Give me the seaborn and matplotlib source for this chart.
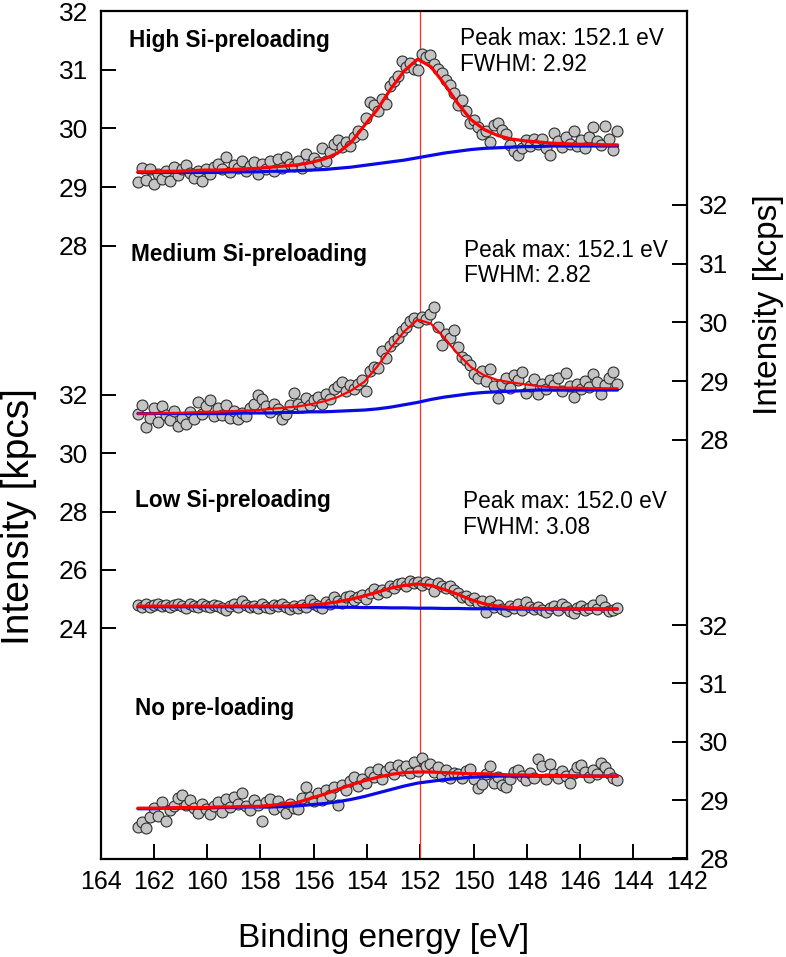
import numpy as np
import seaborn as sns
import matplotlib.pyplot as plt

sns.set_theme(style="ticks", rc={'axes.edgecolor': 'black', 'text.color': 'black',
                                  'xtick.color': 'black', 'ytick.color': 'black'})
plt.rcParams['font.family'] = ['Liberation Sans', 'DejaVu Sans']

# binding energy grids [eV]
energy = np.round(np.arange(162.6, 144.55, -0.15), 2)      # measured points
fit_energy = np.round(np.arange(162.6, 144.55, -0.5), 2)   # fitted curves

# High Si-preloading (left axis, top)
high_counts = [29.08, 29.33, 29.12, 29.30, 29.05, 29.22, 29.14, 29.28, 29.10, 29.35, 29.20, 29.30, 29.38, 29.24, 29.15, 29.27, 29.10, 29.31, 29.22, 29.35,
               29.40, 29.30, 29.52, 29.25, 29.38, 29.33, 29.44, 29.28, 29.36, 29.42, 29.22, 29.40, 29.30, 29.45, 29.27, 29.48, 29.33, 29.52, 29.40, 29.36,
               29.45, 29.33, 29.56, 29.38, 29.50, 29.42, 29.66, 29.44, 29.60, 29.74, 29.80, 29.68, 29.76, 29.70, 29.86, 29.95, 29.90, 30.18, 30.45, 30.40,
               30.30, 30.50, 30.42, 30.72, 30.80, 30.90, 31.15, 31.05, 31.12, 31.02, 31.00, 31.26, 31.22, 31.25, 31.10, 31.02, 30.95, 30.82, 30.74, 30.60,
               30.40, 30.48, 30.30, 30.10, 30.15, 30.02, 29.90, 29.95, 29.76, 30.05, 30.10, 29.98, 29.90, 29.72, 29.62, 29.54, 29.66, 29.80, 29.70, 29.82,
               29.74, 29.82, 29.66, 29.55, 29.92, 29.78, 29.68, 29.85, 29.74, 29.96, 29.70, 29.80, 29.66, 29.86, 30.02, 29.78, 29.72, 30.04, 29.82, 29.64, 29.95]
high_fit = [29.26, 29.26, 29.27, 29.27, 29.28, 29.29, 29.29, 29.30, 29.31, 29.32,
            29.34, 29.36, 29.38, 29.42, 29.48, 29.58, 29.76, 30.05, 30.33, 30.68,
            30.98, 31.18, 31.05, 30.76, 30.43, 30.15, 29.98, 29.88, 29.82, 29.79,
            29.77, 29.75, 29.74, 29.73, 29.73, 29.72, 29.72]
high_bg = [29.25, 29.25, 29.25, 29.25, 29.25, 29.25, 29.25, 29.26, 29.26, 29.26,
           29.27, 29.27, 29.28, 29.29, 29.30, 29.32, 29.34, 29.37, 29.40, 29.43,
           29.46, 29.50, 29.54, 29.58, 29.61, 29.64, 29.66, 29.67, 29.68, 29.69,
           29.69, 29.70, 29.70, 29.70, 29.70, 29.70, 29.70]

# Medium Si-preloading (right axis, upper)
med_counts = [28.45, 28.60, 28.22, 28.38, 28.55, 28.30, 28.58, 28.42, 28.34, 28.50, 28.24, 28.38, 28.28, 28.48, 28.36, 28.64, 28.44, 28.58, 28.68, 28.40,
              28.55, 28.42, 28.60, 28.38, 28.50, 28.36, 28.46, 28.40, 28.54, 28.62, 28.76, 28.70, 28.58, 28.48, 28.62, 28.52, 28.36, 28.44, 28.60, 28.80,
              28.62, 28.56, 28.72, 28.60, 28.68, 28.74, 28.62, 28.78, 28.70, 28.86, 28.92, 28.98, 28.84, 28.94, 28.86, 28.96, 29.02, 28.84, 29.18, 29.25,
              29.22, 29.52, 29.40, 29.60, 29.68, 29.74, 29.85, 29.92, 30.02, 30.08, 30.00, 30.10, 30.06, 30.14, 30.26, 29.92, 29.62, 29.80, 29.74, 29.88,
              29.58, 29.42, 29.36, 29.28, 29.12, 29.06, 29.18, 29.00, 29.20, 28.92, 28.72, 28.96, 29.06, 28.88, 29.10, 29.02, 29.16, 28.80, 28.92, 29.04,
              28.78, 28.96, 28.86, 29.02, 28.94, 29.06, 28.84, 29.14, 28.92, 28.74, 28.96, 28.86, 29.00, 28.90, 29.12, 28.98, 28.78, 28.94, 29.06, 29.16, 28.95]
med_fit = [28.45, 28.45, 28.46, 28.46, 28.47, 28.48, 28.48, 28.49, 28.50, 28.51,
           28.53, 28.55, 28.57, 28.61, 28.66, 28.73, 28.84, 28.99, 29.26, 29.57,
           29.85, 30.05, 29.98, 29.74, 29.47, 29.24, 29.10, 29.02, 28.98, 28.95,
           28.92, 28.90, 28.89, 28.89, 28.88, 28.88, 28.88]
med_bg = [28.45, 28.45, 28.45, 28.45, 28.45, 28.45, 28.45, 28.45, 28.46, 28.46,
          28.46, 28.47, 28.47, 28.48, 28.48, 28.49, 28.50, 28.51, 28.53, 28.56,
          28.60, 28.64, 28.69, 28.73, 28.76, 28.79, 28.81, 28.82, 28.83, 28.84,
          28.85, 28.85, 28.85, 28.85, 28.85, 28.85, 28.85]

# Low Si-preloading (left axis, lower)
low_counts = [24.80, 24.74, 24.82, 24.72, 24.79, 24.84, 24.75, 24.81, 24.73, 24.80, 24.85, 24.76, 24.71, 24.82, 24.77, 24.74, 24.83, 24.78, 24.72, 24.80,
              24.76, 24.70, 24.62, 24.78, 24.84, 24.74, 24.92, 24.80, 24.72, 24.78, 24.70, 24.82, 24.74, 24.68, 24.80, 24.76, 24.84, 24.72, 24.66, 24.78,
              24.68, 24.80, 24.72, 24.98, 24.84, 24.76, 24.68, 24.90, 24.82, 25.06, 24.92, 24.86, 25.08, 25.12, 24.96, 25.06, 25.14, 25.02, 25.20, 25.34,
              25.16, 25.30, 25.24, 25.46, 25.38, 25.52, 25.56, 25.44, 25.62, 25.54, 25.60, 25.48, 25.58, 25.52, 25.28, 25.54, 25.46, 25.38, 25.44, 25.30,
              25.22, 25.06, 25.12, 24.96, 25.04, 24.86, 24.92, 24.56, 24.94, 24.72, 24.80, 24.66, 24.60, 24.76, 24.70, 24.82, 24.64, 24.90, 24.72, 24.66,
              24.74, 24.62, 24.56, 24.70, 24.78, 24.64, 24.84, 24.72, 24.60, 24.54, 24.68, 24.76, 24.62, 24.70, 24.80, 24.66, 24.98, 24.74, 24.60, 24.64, 24.68]
low_fit = [24.76, 24.76, 24.76, 24.76, 24.76, 24.76, 24.76, 24.76, 24.76, 24.76,
           24.76, 24.76, 24.77, 24.80, 24.84, 24.91, 25.00, 25.11, 25.24, 25.38,
           25.47, 25.52, 25.47, 25.33, 25.17, 24.98, 24.84, 24.76, 24.71, 24.69,
           24.68, 24.67, 24.67, 24.66, 24.66, 24.66, 24.66]
low_bg = [24.74, 24.74, 24.74, 24.74, 24.74, 24.74, 24.74, 24.74, 24.74, 24.74,
          24.74, 24.74, 24.74, 24.73, 24.73, 24.72, 24.72, 24.71, 24.71, 24.70,
          24.70, 24.69, 24.69, 24.68, 24.68, 24.67, 24.67, 24.67, 24.66, 24.66,
          24.66, 24.66, 24.66, 24.66, 24.66, 24.66, 24.66]

# No pre-loading (right axis, lower)
no_counts = [28.54, 28.62, 28.52, 28.70, 28.86, 28.72, 28.96, 28.64, 28.82, 28.90, 29.04, 29.08, 28.92, 29.00, 28.86, 28.78, 28.94, 28.84, 28.76, 28.90,
             28.96, 28.80, 29.02, 28.88, 29.06, 28.94, 29.12, 28.90, 28.82, 29.00, 28.92, 28.64, 28.96, 29.02, 28.84, 28.98, 28.88, 28.78, 28.94, 28.86,
             28.84, 29.04, 29.22, 29.06, 28.98, 29.12, 29.00, 29.18, 29.08, 29.22, 28.92, 29.26, 29.18, 29.32, 29.40, 29.24, 29.36, 29.30, 29.48, 29.40,
             29.54, 29.36, 29.50, 29.56, 29.44, 29.60, 29.52, 29.58, 29.46, 29.66, 29.50, 29.72, 29.58, 29.62, 29.48, 29.56, 29.42, 29.52, 29.38, 29.46,
             29.44, 29.38, 29.50, 29.54, 29.36, 29.20, 29.28, 29.44, 29.58, 29.30, 29.40, 29.26, 29.22, 29.36, 29.48, 29.52, 29.42, 29.34, 29.46, 29.38,
             29.70, 29.58, 29.36, 29.62, 29.44, 29.38, 29.50, 29.42, 29.30, 29.46, 29.56, 29.60, 29.48, 29.40, 29.52, 29.44, 29.64, 29.56, 29.46, 29.38, 29.34]
no_fit = [28.86, 28.86, 28.86, 28.87, 28.87, 28.87, 28.88, 28.88, 28.89, 28.89,
          28.91, 28.93, 28.96, 29.03, 29.10, 29.18, 29.26, 29.33, 29.39, 29.44,
          29.47, 29.48, 29.48, 29.47, 29.46, 29.45, 29.45, 29.44, 29.43, 29.43,
          29.42, 29.42, 29.42, 29.41, 29.41, 29.41, 29.41]
no_bg = [28.85, 28.85, 28.86, 28.86, 28.86, 28.86, 28.87, 28.87, 28.88, 28.88,
         28.88, 28.89, 28.90, 28.92, 28.94, 28.97, 29.01, 29.06, 29.12, 29.18,
         29.24, 29.29, 29.32, 29.35, 29.37, 29.39, 29.40, 29.41, 29.41, 29.41,
         29.41, 29.41, 29.41, 29.41, 29.41, 29.41, 29.41]

panel_names = ["High Si-preloading", "Medium Si-preloading", "Low Si-preloading", "No pre-loading"]
peak_max = ["152.1", "152.1", "152.0"]
fwhm = ["2.92", "2.82", "3.08"]

W, H = 786, 957


def fpos(x, y):
    # pixel position -> figure fraction
    return x / W, 1 - y / H


def draw_panel(ax, counts, fit, bg, fit_lw=2.3):
    sns.scatterplot(x=energy, y=counts, ax=ax, s=62, color='#c4c4c4', edgecolor='#2e2e2e',
                    linewidth=0.8, legend=False, zorder=3)
    sns.lineplot(x=fit_energy, y=bg, ax=ax, color='#0a0ae6', linewidth=2.3, zorder=4)
    sns.lineplot(x=fit_energy, y=fit, ax=ax, color='#ff0000', linewidth=fit_lw, zorder=5)


fig = plt.figure(figsize=(7.86, 9.57), dpi=100)
ax = fig.add_axes([0.128, 0.1024, 0.7457, 0.8861])
ax_med = ax.twinx()
ax_low = ax.twinx()
ax_no = ax.twinx()

ax.axvline(152, color='#ff2a2a', lw=0.9, zorder=1)

draw_panel(ax, high_counts, high_fit, high_bg)
draw_panel(ax_med, med_counts, med_fit, med_bg, fit_lw=1.6)
draw_panel(ax_low, low_counts, low_fit, low_bg)
draw_panel(ax_no, no_counts, no_fit, no_bg)

ax.set_xlim(164, 142)
ax.set_xticks(range(164, 141, -2))

ax.set_ylim(17.554, 32)
ax.set_yticks([28, 29, 30, 31, 32])
ax_med.set_ylim(20.868, 35.302)
ax_med.set_yticks([28, 29, 30, 31, 32])
ax_low.set_ylim(16.09, 45.164)
ax_low.set_yticks([24, 26, 28, 30, 32])
ax_low.yaxis.tick_left()
ax_no.set_ylim(27.988, 42.533)
ax_no.set_yticks([28, 29, 30, 31, 32])

for a in (ax, ax_med, ax_low, ax_no):
    a.set_xlabel('')
    a.set_ylabel('')
    a.tick_params(axis='y', direction='in', length=11, width=1.4, labelsize=19, pad=9)
for a in (ax_med, ax_low, ax_no):
    for sp in a.spines.values():
        sp.set_visible(False)
for sp in ax.spines.values():
    sp.set_visible(True)
    sp.set_linewidth(1.6)
ax.tick_params(axis='x', direction='in', length=11, width=1.4, labelsize=18, pad=8)

# panel titles
title_pos = [(129, 47), (131, 261), (135, 507), (135, 715)]
for name, (x, y) in zip(panel_names, title_pos):
    fig.text(*fpos(x, y), name, fontsize=16.3, fontweight='bold', va='baseline', ha='left')

# peak annotations
peak_pos = [(460, 45, 71), (464, 257, 282), (463, 508, 534)]
for pm, fw, (x, y1, y2) in zip(peak_max, fwhm, peak_pos):
    fig.text(*fpos(x, y1), f"Peak max: {pm} eV", fontsize=16.3, va='baseline', ha='left')
    fig.text(*fpos(x, y2), f"FWHM: {fw}", fontsize=16.3, va='baseline', ha='left')

fig.text(*fpos(384, 938), "Binding energy [eV]", fontsize=24, ha='center', va='center')
fig.text(*fpos(19, 517), "Intensity [kpcs]", fontsize=28, rotation=90, ha='center', va='center')
fig.text(*fpos(768, 305), "Intensity [kcps]", fontsize=24, rotation=90, ha='center', va='center')

fig.savefig("out.png", dpi=100)
